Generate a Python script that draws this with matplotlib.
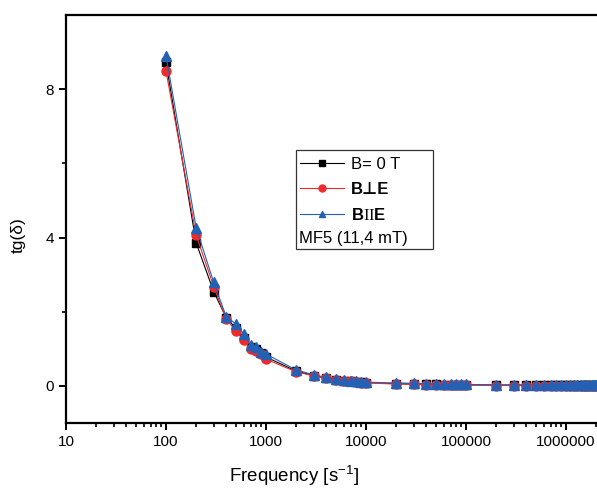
import numpy as np
import matplotlib
matplotlib.use('Agg')
import matplotlib.pyplot as plt
from matplotlib.patches import Rectangle
from matplotlib.ticker import LogLocator, NullFormatter, FixedLocator

plt.rcParams['font.family'] = ['Liberation Sans', 'DejaVu Sans']
plt.rcParams['mathtext.fontset'] = 'custom'
plt.rcParams['mathtext.rm'] = 'Liberation Serif'
plt.rcParams['mathtext.bf'] = 'Liberation Sans:bold'
plt.rcParams['mathtext.it'] = 'Liberation Sans:italic'

# frequencias medidas [s^-1]
frequencia = [100, 200, 300, 400, 500, 600, 700, 800, 900, 1000,
              2000, 3000, 4000, 5000, 6000, 7000, 8000, 9000, 10000,
              20000, 30000, 40000, 50000, 60000, 70000, 80000, 90000, 100000,
              200000, 300000, 400000, 500000, 600000, 700000, 800000, 900000, 1000000,
              1100000, 1200000, 1300000, 1400000, 1500000, 1600000, 1700000, 1800000,
              1900000, 2000000]

tg_b0 = [8.72, 3.86, 2.54, 1.84, 1.55, 1.30, 1.05, 1.00, 0.88, 0.78,
         0.40, 0.28, 0.21, 0.17, 0.14, 0.12, 0.11, 0.10, 0.09,
         0.06, 0.05, 0.04, 0.04, 0.03, 0.03, 0.03, 0.03, 0.03,
         0.02, 0.02, 0.02, 0.02, 0.02, 0.02, 0.02, 0.02, 0.02,
         0.02, 0.02, 0.02, 0.02, 0.02, 0.02, 0.02, 0.02, 0.02, 0.02]

tg_perp = [8.49, 4.07, 2.68, 1.80, 1.49, 1.24, 0.99, 0.95, 0.86, 0.72,
           0.38, 0.27, 0.20, 0.16, 0.14, 0.12, 0.10, 0.09, 0.08,
           0.05, 0.04, 0.03, 0.03, 0.02, 0.02, 0.02, 0.02, 0.02,
           0.01, 0.01, 0.01, 0.01, 0.01, 0.01, 0.01, 0.01, 0.01,
           0.01, 0.01, 0.01, 0.01, 0.01, 0.01, 0.01, 0.01, 0.01, 0.01]

tg_par = [8.90, 4.27, 2.79, 1.87, 1.67, 1.40, 1.10, 1.04, 0.92, 0.86,
          0.43, 0.30, 0.23, 0.18, 0.15, 0.13, 0.12, 0.11, 0.10,
          0.08, 0.07, 0.06, 0.05, 0.05, 0.04, 0.04, 0.04, 0.04,
          0.03, 0.03, 0.03, 0.03, 0.03, 0.03, 0.03, 0.03, 0.03,
          0.03, 0.03, 0.03, 0.03, 0.03, 0.03, 0.03, 0.03, 0.03, 0.03]

vermelho = '#ee2b2b'
azul = '#2461b5'

fig = plt.figure(figsize=(5.97, 4.88), dpi=100)
ax = fig.add_axes([66 / 597, 65 / 488, 1 - 66 / 597, 408 / 488])

l1, = ax.plot(frequencia, tg_b0, '-s', color='black', lw=0.8, ms=5.5, label='B= 0 T')
l2, = ax.plot(frequencia, tg_perp, '-o', color=vermelho, lw=0.8, ms=6.5,
              label='B\u22a5E')
l3, = ax.plot(frequencia, tg_par, '-^', color=azul, lw=0.8, ms=7,
              label=r'$\mathbf{B}\mathrm{II}\mathbf{E}$')

ax.set_xscale('log')
ax.set_xlim(10, 10 ** 6.31)
ax.set_ylim(-1, 10)

ax.xaxis.set_minor_locator(LogLocator(base=10, subs=np.arange(2, 10), numticks=20))
ax.xaxis.set_minor_formatter(NullFormatter())
ax.set_xticks([10, 100, 1000, 10000, 100000, 1000000])
ax.set_xticklabels(['10', '100', '1000', '10000', '100000', '1000000'])
ax.set_yticks([0, 4, 8])
ax.yaxis.set_minor_locator(FixedLocator([2, 6]))

ax.spines['right'].set_visible(False)
for s in ['left', 'bottom', 'top']:
    ax.spines[s].set_linewidth(1.6)
ax.tick_params(which='major', direction='out', length=5, width=1.4, labelsize=11,
               top=False, right=False)
ax.tick_params(which='minor', direction='out', length=3, width=1.2, top=False, right=False)

ax.set_xlabel('Frequency [s$^{\\mathregular{-1}}$]', fontsize=13.5)
ax.xaxis.set_label_coords((294 - 66) / 531, -41 / 408)
ax.set_ylabel('tg(\u03b4)', fontsize=12.5)
ax.yaxis.set_label_coords(-40 / 531, (423 - 235) / 408)

# legenda com caixa manual
leg = ax.legend(handles=[l1, l2, l3], loc='upper left', frameon=False, fontsize=12,
                bbox_to_anchor=(296 / 597, 1 - 153 / 488), bbox_transform=fig.transFigure,
                borderaxespad=0, borderpad=0.25, handlelength=2.6, handletextpad=0.45,
                labelspacing=0.6)
leg.get_texts()[1].set_fontweight('bold')
for h in leg.legend_handles:
    h.set_markersize(5)
ax.text((299 - 66) / 531, (423 - 238) / 408, 'MF5 (11,4 mT)', transform=ax.transAxes,
        fontsize=12, va='center', ha='left')
ax.add_patch(Rectangle(((296 - 66) / 531, (423 - 249) / 408), 137 / 531, 99 / 408,
                       transform=ax.transAxes, fill=False, ec='#333333', lw=0.9, zorder=5))

plt.savefig('out.png', dpi=100)
